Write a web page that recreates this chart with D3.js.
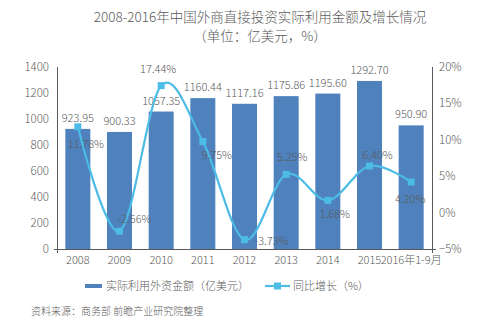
<!DOCTYPE html>
<html><head><meta charset="utf-8">
<script src="https://cdn.jsdelivr.net/npm/d3@7"></script>
<style>
body{margin:0;background:#fff;}
text{font-family:"Noto Sans CJK SC","Noto Sans",sans-serif;font-weight:300;fill:#5a5a5a;}
</style></head>
<body><svg id="c" width="497" height="329"></svg>
<script>
const categories=["2008","2009","2010","2011","2012","2013","2014","2015","2016年1-9月"];
const amounts=[923.95,900.33,1057.35,1160.44,1117.16,1175.86,1195.60,1292.70,950.90];
const growth=[11.78,-2.56,17.44,9.75,-3.73,5.25,1.68,6.40,4.20];
const leftTicks=[0,200,400,600,800,1000,1200,1400];
const rightTicks=[-5,0,5,10,15,20];
// label offsets (dx, dy) relative to each growth marker
const growthLabelOffsets=[[8,21],[15,-8],[-3,-13],[14,17],[27,5],[6,-13],[7,18],[8,-7],[-1,21]];

const svg=d3.select("#c");
const barColor="#4f81bd", lineColor="#4cbbe6", axisColor="#595959";
const x=d3.scaleBand().domain(categories).range([57,432]).paddingInner(0.4).paddingOuter(0.2);
const yL=d3.scaleLinear().domain([0,1400]).range([249,67]);
const yR=d3.scaleLinear().domain([-5,20]).range([249,67]);

// title
svg.append("text").attr("x",260).attr("y",22).attr("text-anchor","middle").style("font-size","13.5px").text("2008-2016年中国外商直接投资实际利用金额及增长情况");
svg.append("text").attr("x",260).attr("y",41).attr("text-anchor","middle").style("font-size","13.5px").text("（单位：亿美元，%）");

// bars
svg.selectAll("rect.bar").data(amounts).join("rect").attr("class","bar")
 .attr("x",(d,i)=>x(categories[i])).attr("width",x.bandwidth())
 .attr("y",d=>yL(d)).attr("height",d=>yL(0)-yL(d)).attr("fill",barColor);
svg.selectAll("text.bl").data(amounts).join("text").attr("class","bl")
 .attr("x",(d,i)=>x(categories[i])+x.bandwidth()/2).attr("y",d=>yL(d)-7)
 .attr("text-anchor","middle").style("font-size","11px").text(d=>d.toFixed(2));

// axes
const ax=svg.append("g").attr("stroke",axisColor).attr("stroke-width",1);
ax.append("line").attr("x1",57.5).attr("x2",57.5).attr("y1",yL(1400)).attr("y2",250);
ax.append("line").attr("x1",432.5).attr("x2",432.5).attr("y1",yR(20)).attr("y2",250);
ax.append("line").attr("x1",54).attr("x2",436).attr("y1",249.5).attr("y2",249.5);
ax.append("line").attr("x1",57.5).attr("x2",57.5).attr("y1",249).attr("y2",253);
ax.append("line").attr("x1",432.5).attr("x2",432.5).attr("y1",249).attr("y2",253);

svg.selectAll("text.lt").data(leftTicks).join("text").attr("class","lt")
 .attr("x",49).attr("y",d=>yL(d)+4).attr("text-anchor","end").style("font-size","11.5px").text(d=>d);
svg.selectAll("text.rt").data(rightTicks).join("text").attr("class","rt")
 .attr("x",439).attr("y",d=>yR(d)+4).style("font-size","11.5px").text(d=>(d<0?"−":"")+Math.abs(d)+"%");
svg.selectAll("text.xt").data(categories).join("text").attr("class","xt")
 .attr("x",d=>x(d)+x.bandwidth()/2).attr("y",264).attr("text-anchor","middle").style("font-size","11px").text(d=>d);

// line
const pts=growth.map((g,i)=>[x(categories[i])+x.bandwidth()/2,yR(g)]);
svg.append("path").attr("d",d3.line().curve(d3.curveCatmullRom.alpha(0))(pts))
 .attr("fill","none").attr("stroke",lineColor).attr("stroke-width",2.2);
svg.selectAll("rect.mk").data(pts).join("rect").attr("class","mk")
 .attr("x",d=>d[0]-3.5).attr("y",d=>d[1]-3.5).attr("width",7).attr("height",7).attr("fill",lineColor);
svg.selectAll("text.gl").data(growth).join("text").attr("class","gl")
 .attr("x",(d,i)=>pts[i][0]+growthLabelOffsets[i][0]).attr("y",(d,i)=>pts[i][1]+growthLabelOffsets[i][1])
 .attr("text-anchor","middle").style("font-size","11px").text(d=>d.toFixed(2)+"%");

// legend
svg.append("rect").attr("x",85).attr("y",284).attr("width",17).attr("height",4).attr("fill",barColor);
svg.append("text").attr("x",106).attr("y",290).style("font-size","11px").text("实际利用外资金额（亿美元）");
svg.append("line").attr("x1",265).attr("x2",290).attr("y1",286).attr("y2",286).attr("stroke",lineColor).attr("stroke-width",2.2);
svg.append("rect").attr("x",274).attr("y",282.5).attr("width",7).attr("height",7).attr("fill",lineColor);
svg.append("text").attr("x",293).attr("y",290).style("font-size","11px").text("同比增长（%）");

// source
svg.append("text").attr("x",31).attr("y",315).style("font-size","10px").text("资料来源：商务部 前瞻产业研究院整理");
</script></body></html>
